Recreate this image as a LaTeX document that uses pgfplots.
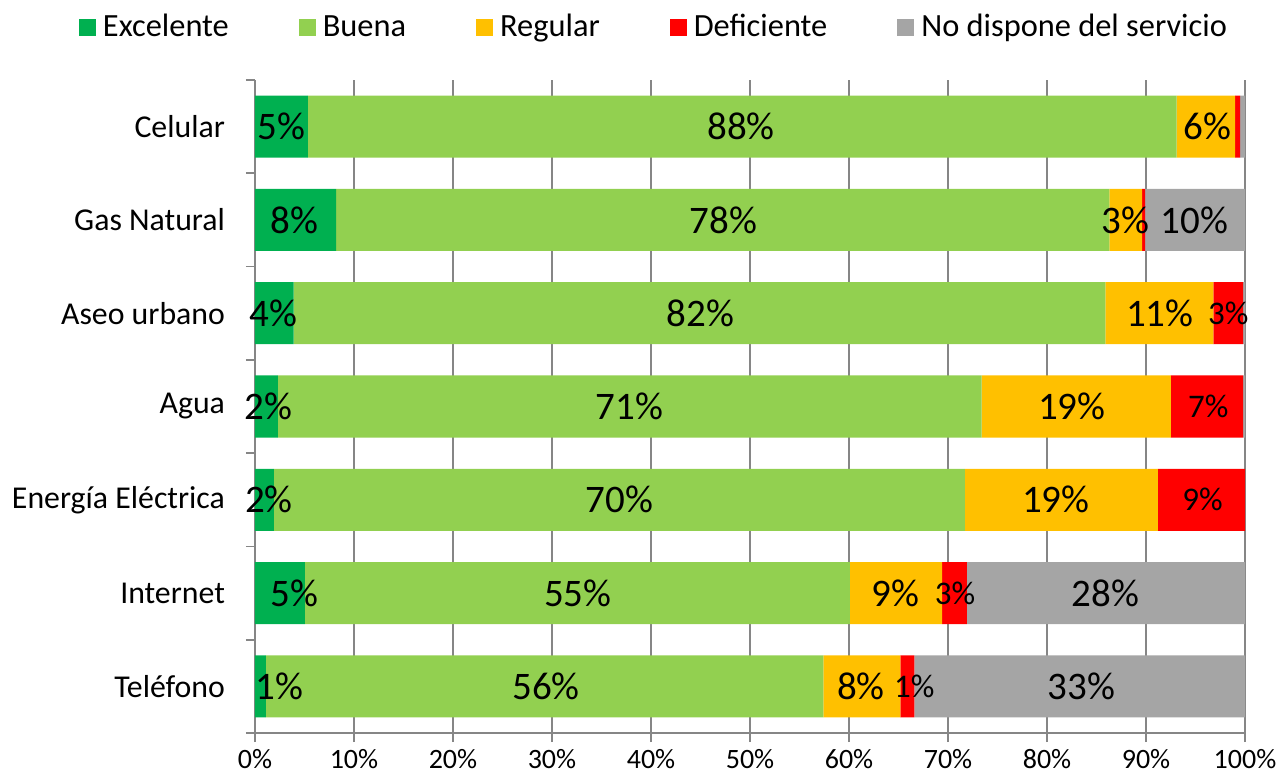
\documentclass[border=0pt]{standalone}
\usepackage{pgfplots}
\pgfplotsset{compat=1.18}
\usepackage{fontspec}
\setmainfont{Carlito}
\definecolor{cExc}{HTML}{00B050}
\definecolor{cBue}{HTML}{92D050}
\definecolor{cReg}{HTML}{FFC000}
\definecolor{cDef}{HTML}{FF0000}
\definecolor{cNo}{HTML}{A5A5A5}
\definecolor{gline}{HTML}{868686}
\pgfplotsset{
  base/.style={
    width=495pt, height=326.5pt, scale only axis,
    xmin=0, xmax=100, ymin=-0.5, ymax=6.5,
    at={(0,0)}, anchor=south west,
  },
  lab/.style={only marks, mark=*, mark size=0pt, mark options={draw=none,fill=none},
    nodes near coords={\pgfplotspointmeta\%}, point meta=explicit symbolic,
    every node near coord/.style={anchor=center, inner sep=0pt, text=black, font=#1}},
}
\begin{document}
\begin{tikzpicture}
\begin{axis}[base,
  xbar stacked, bar width=0.665,
  axis x line*=bottom, axis y line*=left,
  axis line style={gline, line width=0.9pt},
  xtick={0,10,...,100},
  xticklabels={0\%,10\%,20\%,30\%,40\%,50\%,60\%,70\%,80\%,90\%,100\%},
  xmajorgrids, grid style={gline, line width=0.9pt},
  tick align=outside, major tick length=4.5pt,
  x tick style={gline, line width=0.9pt},
  ytick={0,...,6},
  yticklabels={Teléfono,Internet,Energía Eléctrica,Agua,Aseo urbano,Gas Natural,Celular},
  y tick style={draw=none},
  extra y ticks={-0.5,0.5,...,6.5}, extra y tick labels={},
  extra y tick style={grid=none, y tick style={draw=gline, line width=0.9pt}},
  yticklabel style={font=\fontsize{15.9}{18}\selectfont, xshift=-7pt},
  xticklabel style={font=\fontsize{14}{16}\selectfont},
  legend columns=5,
  legend style={at={(0.404,1.081)}, anchor=center, draw=none, fill=none,
    font=\fontsize{16.2}{19}\selectfont,
    /tikz/every even column/.append style={column sep=33pt}},
  legend image code/.code={\fill[#1] (0pt,-4.25pt) rectangle (8.5pt,4.25pt); \path (10pt,0pt);},
]
\addplot[fill=cExc, draw=none] coordinates {(5.35,6) (8.2,5) (3.9,4) (2.3,3) (1.9,2) (5.05,1) (1.1,0)};
\addplot[fill=cBue, draw=none] coordinates {(87.75,6) (78.1,5) (82.0,4) (71.1,3) (69.8,2) (55.05,1) (56.3,0)};
\addplot[fill=cReg, draw=none] coordinates {(5.9,6) (3.3,5) (10.9,4) (19.1,3) (19.5,2) (9.3,1) (7.8,0)};
\addplot[fill=cDef, draw=none] coordinates {(0.5,6) (0.3,5) (3.0,4) (7.3,3) (8.8,2) (2.5,1) (1.4,0)};
\addplot[fill=cNo, draw=none] coordinates {(0.5,6) (10.1,5) (0.2,4) (0.2,3) (0,2) (28.1,1) (33.4,0)};
\legend{Excelente,Buena,Regular,Deficiente,No dispone del servicio}
\end{axis}
\begin{axis}[base, hide axis, clip=false]
\addplot[lab={\fontsize{19.5}{23}\selectfont}] table[meta=lab] {
x y lab
2.7 6 5
49.1 6 88
96.2 6 6
4.0 5 8
47.3 5 78
87.9 5 3
94.9 5 10
1.9 4 4
45.0 4 82
91.4 4 11
1.35 3 2
37.8 3 71
82.5 3 19
1.4 2 2
36.8 2 70
80.9 2 19
4.0 1 5
32.6 1 55
64.7 1 9
85.9 1 28
2.5 0 1
29.4 0 56
61.2 0 8
83.5 0 33
};
\addplot[lab={\fontsize{16.5}{19}\selectfont}] table[meta=lab] {
x y lab
98.3 4 3
96.3 3 7
95.7 2 9
70.7 1 3
66.6 0 1
};
\end{axis}
\pgfresetboundingbox
\path[use as bounding box] (-127.5pt,-21.5pt) rectangle (511.5pt,366.5pt);
\end{tikzpicture}
\end{document}
